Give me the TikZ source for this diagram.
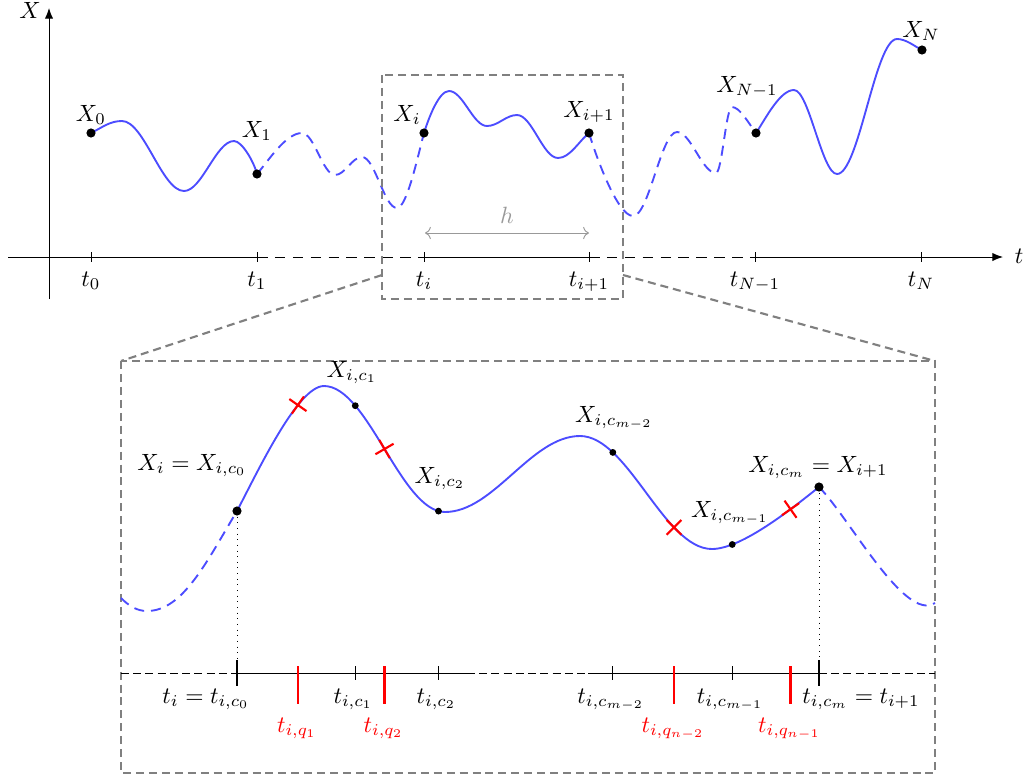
\documentclass[tikz,border=0pt]{standalone}
\usetikzlibrary{arrows.meta,positioning,shapes.misc}
\begin{document}
\begin{tikzpicture}[x=0.425pt,y=-0.425pt,
  curve/.style={blue!70,line width=0.8pt},
  hidden/.style={curve,dash pattern=on 4.3pt off 2.9pt},
  zoomline/.style={gray,line width=0.9pt,dash pattern=on 3.4pt off 2.1pt},
  dot/.style={circle,fill=black,inner sep=0pt,minimum size=3.9pt},
  sdot/.style={circle,fill=black,inner sep=0pt,minimum size=2.9pt},
  xmark/.style={cross out,draw=red,line width=0.9pt,inner sep=0pt,minimum size=5.4pt},
  lbl/.style={anchor=base,inner sep=0pt},
  axis/.style={-{Latex[length=1.6mm,width=1.25mm]}},
  gap/.style={dash pattern=on 4.5pt off 3.1pt},
  bgap/.style={dash pattern=on 3.4pt off 1.8pt}]
\useasboundingbox (0,0) rectangle (1024,778);

% upper picture: the whole path
\foreach \n/\x in {t0/91,t1/257,ti/424,ti1/589,tN1/755,tN/921}
  \coordinate (\n) at (\x,257);
\draw[axis] (49,299) -- (49,8);
\node[lbl] (Xaxis) at (30,18) {$X$};
\draw (8,257) -- (t1);
\draw[gap] (t1) -- (ti);
\draw (ti) -- (ti1);
\draw[gap] (ti1) -- (tN1);
\draw[axis] (tN1) -- (1003,257);
\node[lbl] (taxis) at (1019,263) {$t$};
\foreach \n/\l in {t0/t_0,t1/t_1,ti/t_i,ti1/t_{i+1},tN1/t_{N-1},tN/t_N}{
  \draw (\n) ++(0,-5) -- ++(0,10);
  \path (\n) ++(0,29) node[lbl] (l\n) {$\l$};
}

\coordinate (p0) at (91,133);
\coordinate (p1) at (257,174);
\coordinate (pi) at (424,133);
\coordinate (pi1) at (589,133);
\coordinate (pN1) at (756,133);
\coordinate (pN) at (922,50);
\draw[curve] (p0) .. controls +(12,-6) and +(-12,0) .. (122,121)
  .. controls +(22,0) and +(-22,0) .. (184,191)
  .. controls +(18,0) and +(-18,0) .. (234,141)
  .. controls +(8,0) and +(-3,-12) .. (p1);
\draw[hidden] (p1) .. controls +(12,-14) and +(-16,0) .. (302,133)
  .. controls +(12,0) and +(-12,0) .. (335,175)
  .. controls +(10,0) and +(-10,0) .. (362,157)
  .. controls +(13,0) and +(-13,0) .. (397,208)
  .. controls +(10,0) and +(-6,22) .. (pi);
\draw[curve] (pi) .. controls +(5,-16) and +(-10,0) .. (449,91)
  .. controls +(14,0) and +(-14,0) .. (487,126)
  .. controls +(11,0) and +(-11,0) .. (517,115)
  .. controls +(15,0) and +(-15,0) .. (558,158)
  .. controls +(12,0) and +(-10,8) .. (pi1);
\draw[hidden] (pi1) .. controls +(6,20) and +(-16,0) .. (633,216)
  .. controls +(16,0) and +(-16,0) .. (677,132)
  .. controls +(14,0) and +(-14,0) .. (716,173)
  .. controls +(6,0) and +(-6,0) .. (732,107)
  .. controls +(8,0) and +(-7,-9) .. (pN1);
\draw[curve] (pN1) .. controls +(10,-15) and +(-14,0) .. (794,90)
  .. controls +(15,0) and +(-15,0) .. (837,174)
  .. controls +(22,0) and +(-22,0) .. (897,39)
  .. controls +(9,0) and +(-8,-4) .. (pN);
\foreach \n in {p0,p1,pi,pi1,pN1,pN}
  \node[dot] (X\n) at (\n) {};
\node[lbl] (lX0) at (91,121) {$X_0$};
\node[lbl] (lX1) at (257,137) {$X_1$};
\node[lbl] (lXi) at (407,121) {$X_i$};
\node[lbl] (lXi1) at (589,117) {$X_{i+1}$};
\node[lbl] (lXN1) at (747,92) {$X_{N-1}$};
\node[lbl] (lXN) at (921,37) {$X_N$};

\coordinate (ha) at (425,233);
\coordinate (hb) at (589,233);
\draw[gray!80,<->] (ha) -- (hb);
\node[lbl,text=gray!80] (h) at (507,223) {$h$};

% zoom
\coordinate (zA) at (382,275);
\coordinate (zB) at (623,275);
\coordinate (bA) at (121,361);
\coordinate (bB) at (935,361);
\draw[zoomline] (382,75) rectangle (623,299);
\draw[zoomline] (zA) -- (bA);
\draw[zoomline] (zB) -- (bB);
\draw[zoomline] (bA) rectangle (935,773);

% lower picture: one step
\coordinate (pc0) at (237,511);
\coordinate (pcm) at (819,487);
\coordinate (bax) at (0,673);
\coordinate (T0) at (pc0 |- bax);
\coordinate (Tm) at (pcm |- bax);

\draw[hidden] (121,598) .. controls +(8,8) and +(-10,0) .. (147,611)
  .. controls +(36,0) and +(-30,50) .. (pc0);
\draw[curve] (pc0) .. controls +(22,-42) and +(-26,0) .. (324,386)
    coordinate[pos=.7] (q1)
  .. controls +(44,0) and +(-44,0) .. (445,512)
    coordinate[pos=.25] (c1) coordinate[pos=.5] (q2) coordinate[pos=.95] (c2)
  .. controls +(49,0) and +(-49,0) .. (580,436)
  .. controls +(48,0) and +(-48,0) .. (712,549)
    coordinate[pos=.24] (cm2) coordinate[pos=.72] (q3)
  .. controls +(30,0) and +(-25,20) .. (pcm)
    coordinate[pos=.2] (cm1) coordinate[pos=.7] (q4);
\draw[hidden] (pcm) .. controls +(30,30) and +(-30,20) .. (935,603);

\draw[dotted] (pc0) -- (T0);
\draw[dotted] (pcm) -- (Tm);
\draw[bgap] (121,673) -- (T0);
\draw (T0) -- (467,673);
\draw[bgap] (467,673) -- (588,673);
\draw (588,673) -- (Tm);
\draw[bgap] (Tm) -- (935,673);
\foreach \p in {pc0,pcm}
  \draw[line width=1pt] (\p |- bax) ++(0,-13) -- ++(0,26);
\foreach \p in {c1,c2,cm2,cm1}
  \draw (\p |- bax) ++(0,-7) -- ++(0,14);
\foreach \p in {q1,q2,q3,q4}
  \draw[red,line width=0.9pt] (\p |- bax) ++(0,-7) -- ++(0,38);

\node[xmark,rotate=10] (Q1) at (q1) {};
\node[xmark,rotate=-15] (Q2) at (q2) {};
\node[xmark] (Q3) at (q3) {};
\node[xmark,rotate=-10] (Q4) at (q4) {};
\node[dot] (Xc0) at (pc0) {};
\node[dot] (Xcm) at (pcm) {};
\foreach \p in {c1,c2,cm2,cm1}
  \node[sdot] (X\p) at (\p) {};

\node[lbl] (lXc0) at (192,470) {$X_i = X_{i,c_0}$};
\node[lbl] (lXc1) at (352,377) {$X_{i,c_1}$};
\node[lbl] (lXc2) at (440,483) {$X_{i,c_2}$};
\node[lbl] (lXcm2) at (614,422) {$X_{i,c_{m-2}}$};
\node[lbl] (lXcm1) at (730,517) {$X_{i,c_{m-1}}$};
\node[lbl] (lXcm) at (818,472) {$X_{i,c_m} = X_{i+1}$};

\node[lbl] (lt0) at (206,703) {$t_i = t_{i,c_0}$};
\foreach \p/\l in {c1/t_{i,c_1},c2/t_{i,c_2},cm2/t_{i,c_{m-2}},cm1/t_{i,c_{m-1}}}
  \path (\p |- bax) ++(-2,30) node[lbl] (l\p) {$\l$};
\node[lbl] (ltm) at (861,703) {$t_{i,c_m} = t_{i+1}$};
\foreach \p/\l in {q1/t_{i,q_1},q2/t_{i,q_2},q3/t_{i,q_{n-2}},q4/t_{i,q_{n-1}}}
  \path (\p |- bax) ++(-1,59) node[lbl,text=red] (l\p) {$\l$};
\end{tikzpicture}
\end{document}
